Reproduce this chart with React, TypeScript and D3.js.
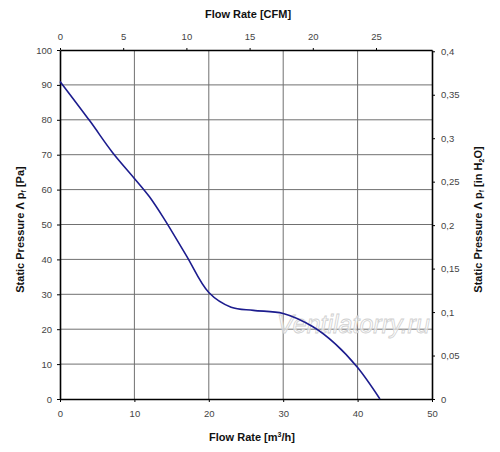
import React, { useRef, useEffect } from 'react';
import * as d3 from 'd3';

// fan curve: flow [m3/h] vs static pressure [Pa]
const flowM3h = [0, 4, 7, 10, 12, 14, 17, 20, 23, 26, 30, 34, 37, 40, 43];
const pressurePa = [91, 79.7, 70.8, 63.2, 58, 51.6, 41, 30.5, 26.3, 25.4, 24.5, 20.7, 15.8, 9, 0];

const bottomTicks = [0, 10, 20, 30, 40, 50];
const leftTicks = [0, 10, 20, 30, 40, 50, 60, 70, 80, 90, 100];
const topTicks = [0, 5, 10, 15, 20, 25];
const rightTicks = [0, 0.05, 0.1, 0.15, 0.2, 0.25, 0.3, 0.35, 0.4];

const M3H_PER_CFM = 1.699;
const PA_PER_INH2O = 249.089;

const W = 500;
const H = 452;
const margin = { top: 50, right: 68, bottom: 53, left: 60 };

const App: React.FC = () => {
    const svgRef = useRef<SVGSVGElement | null>(null);

    useEffect(() => {
        const svg = d3.select(svgRef.current);
        svg.selectAll('*').remove();

        const x = d3.scaleLinear().domain([0, 50]).range([margin.left, W - margin.right]);
        const y = d3.scaleLinear().domain([0, 100]).range([H - margin.bottom, margin.top]);
        const xCfm = d3.scaleLinear().domain([0, 50 / M3H_PER_CFM]).range(x.range());
        const yIn = d3.scaleLinear().domain([0, 100 / PA_PER_INH2O]).range(y.range());

        const font = 'Liberation Sans, Arial, sans-serif';

        // grid
        svg.append('g')
            .selectAll('line')
            .data(bottomTicks.slice(1, -1))
            .enter()
            .append('line')
            .attr('x1', d => x(d)).attr('x2', d => x(d))
            .attr('y1', y(0)).attr('y2', y(100))
            .attr('stroke', '#707070').attr('stroke-width', 1);

        svg.append('g')
            .selectAll('line')
            .data(leftTicks.slice(1, -1))
            .enter()
            .append('line')
            .attr('x1', x(0)).attr('x2', x(50))
            .attr('y1', d => y(d)).attr('y2', d => y(d))
            .attr('stroke', '#707070').attr('stroke-width', 1);

        const styleAxis = (g: d3.Selection<SVGGElement, unknown, null, undefined>) => {
            g.select('.domain').attr('stroke', '#000').attr('stroke-width', 1.6);
            g.selectAll('.tick line').attr('stroke', '#000');
            g.selectAll('.tick text').attr('fill', '#444').style('font-size', '9.5px').style('font-family', font);
        };

        const fmtComma = (d: d3.NumberValue) => String(+d).replace('.', ',');

        svg.append('g')
            .attr('transform', `translate(0,${y(0)})`)
            .call(d3.axisBottom(x).tickValues(bottomTicks).tickSize(3).tickSizeOuter(0).tickPadding(8))
            .call(styleAxis);

        svg.append('g')
            .attr('transform', `translate(${x(0)},0)`)
            .call(d3.axisLeft(y).tickValues(leftTicks).tickSize(3).tickSizeOuter(0).tickPadding(5))
            .call(styleAxis);

        svg.append('g')
            .attr('transform', `translate(0,${y(100)})`)
            .call(d3.axisTop(xCfm).tickValues(topTicks).tickSize(2).tickSizeOuter(0).tickPadding(8))
            .call(styleAxis);

        svg.append('g')
            .attr('transform', `translate(${x(50)},0)`)
            .call(d3.axisRight(yIn).tickValues(rightTicks).tickFormat(fmtComma).tickSize(3).tickSizeOuter(0).tickPadding(6))
            .call(styleAxis);

        // watermark
        svg.append('text')
            .attr('x', 277)
            .attr('y', 333)
            .style('font-family', font)
            .style('font-style', 'italic')
            .style('font-size', '25px')
            .attr('fill', '#ffffff')
            .attr('fill-opacity', 0.6)
            .attr('stroke', '#d0d0d0')
            .attr('stroke-width', 0.8)
            .text('Ventilatorry.ru');

        // curve
        const line = d3.line<number>()
            .x((_, i) => x(flowM3h[i]))
            .y(d => y(d))
            .curve(d3.curveCatmullRom.alpha(0.5));

        svg.append('path')
            .datum(pressurePa)
            .attr('d', line)
            .attr('fill', 'none')
            .attr('stroke', '#1c1c8e')
            .attr('stroke-width', 1.6);

        // titles
        const title = (sel: d3.Selection<SVGTextElement, unknown, null, undefined>) =>
            sel.style('font-family', font).style('font-weight', 'bold').style('font-size', '11px').attr('fill', '#111');

        svg.append('text').attr('x', 248).attr('y', 18).attr('text-anchor', 'middle').call(title)
            .text('Flow Rate [CFM]');

        const bt = svg.append('text').attr('x', 252).attr('y', 441).attr('text-anchor', 'middle').call(title);
        bt.append('tspan').text('Flow Rate [m');
        bt.append('tspan').attr('dy', -4).style('font-size', '7px').text('3');
        bt.append('tspan').attr('dy', 4).text('/h]');

        const lt = svg.append('text')
            .attr('transform', `translate(24,${(y(0) + y(100)) / 2 + 5}) rotate(-90)`)
            .attr('text-anchor', 'middle').call(title);
        lt.append('tspan').text('Static Pressure Λ p');
        lt.append('tspan').attr('dy', 2).style('font-size', '7px').text('f');
        lt.append('tspan').attr('dy', -2).text(' [Pa]');

        const rt = svg.append('text')
            .attr('transform', `translate(482,${(y(0) + y(100)) / 2 - 5}) rotate(-90)`)
            .attr('text-anchor', 'middle').call(title);
        rt.append('tspan').text('Static Pressure Λ p');
        rt.append('tspan').attr('dy', 2).style('font-size', '7px').text('f');
        rt.append('tspan').attr('dy', -2).text(' [in H');
        rt.append('tspan').attr('dy', 2).style('font-size', '7px').text('2');
        rt.append('tspan').attr('dy', -2).text('O]');
    }, []);

    return (
        <svg ref={svgRef} width={W} height={H} style={{ position: 'absolute', left: 0, top: 0, background: '#fff' }}></svg>
    );
};

export default App;
